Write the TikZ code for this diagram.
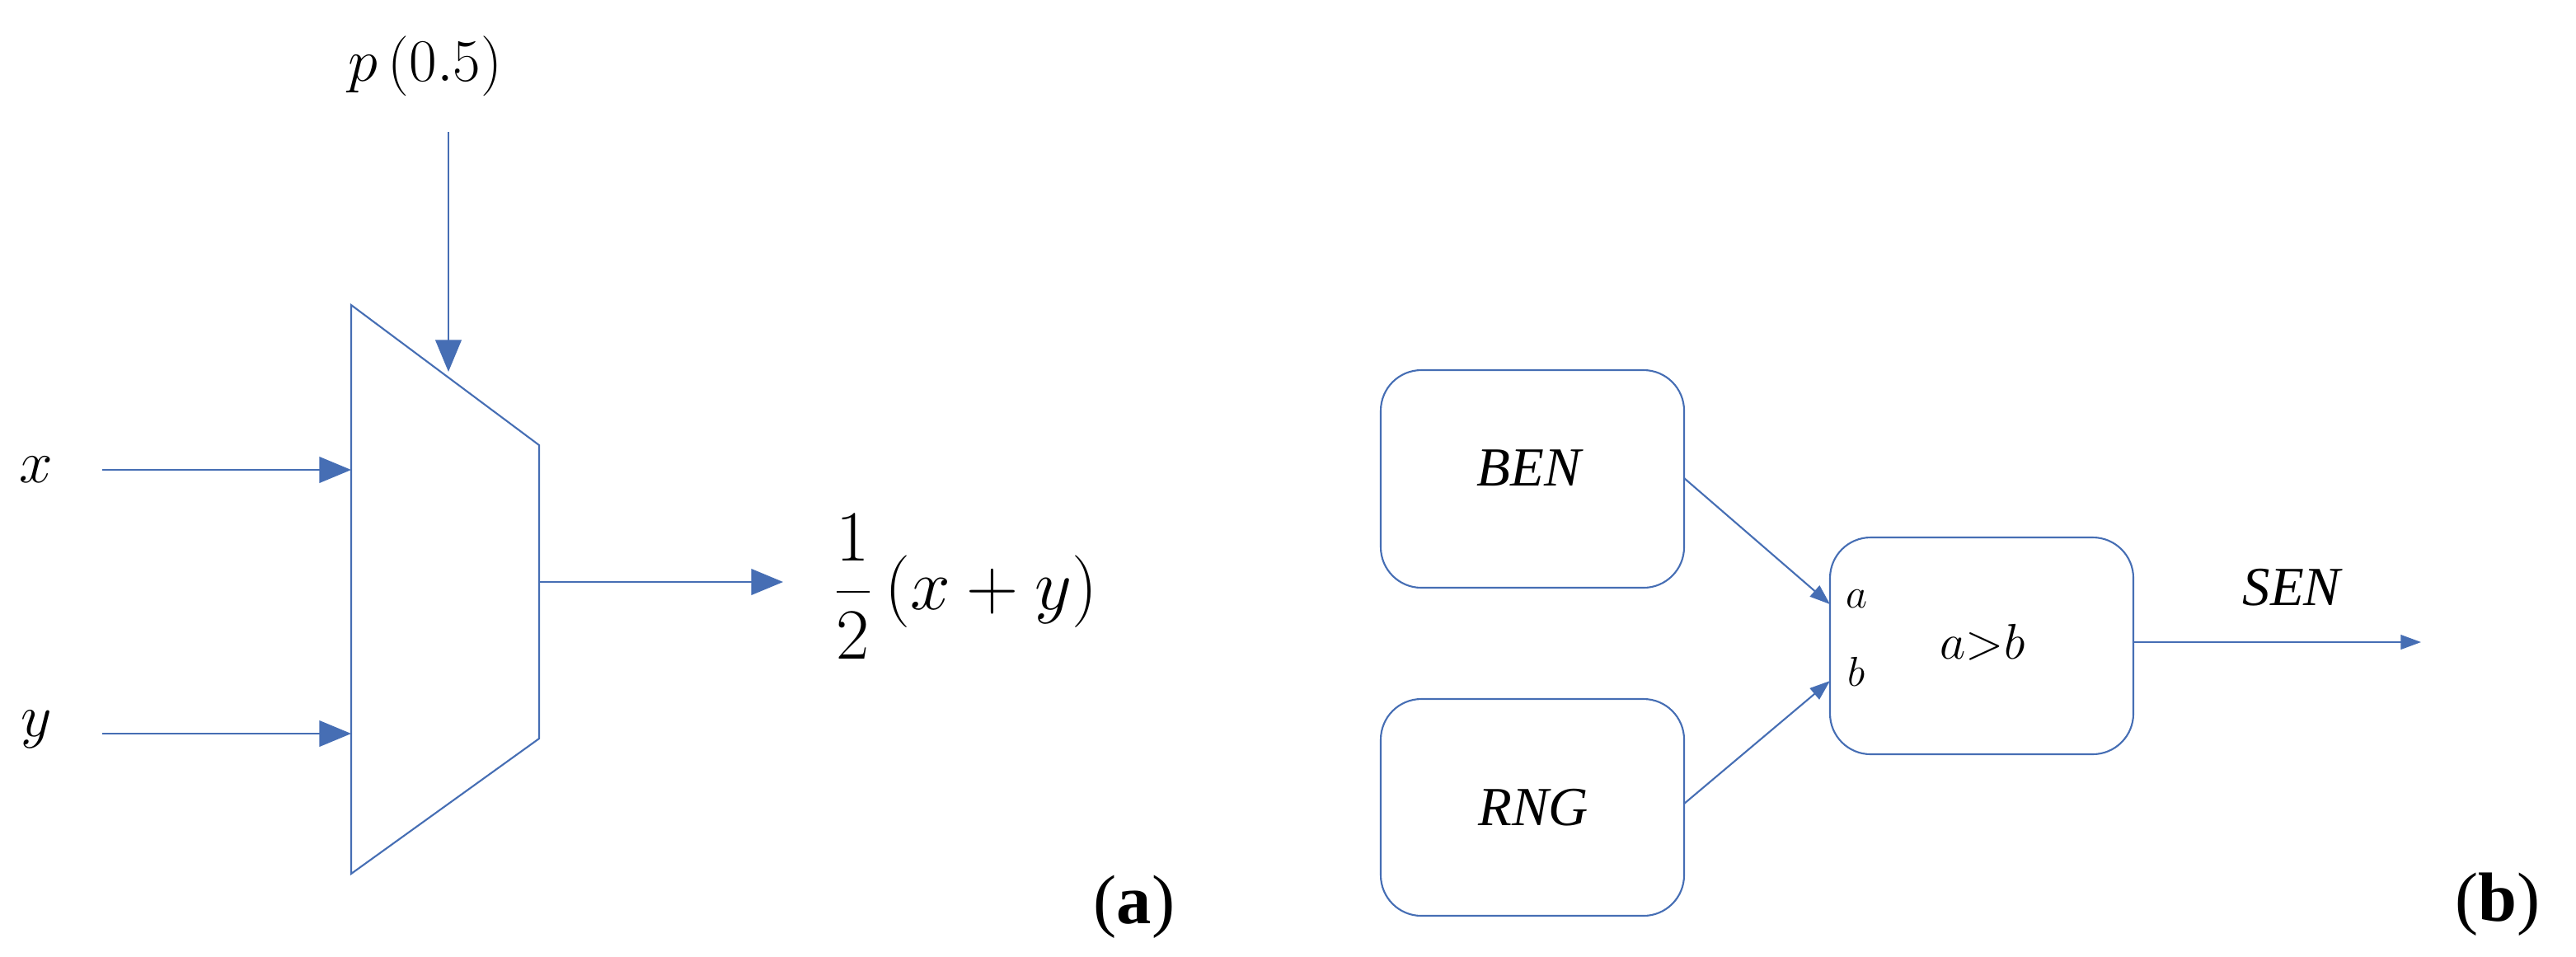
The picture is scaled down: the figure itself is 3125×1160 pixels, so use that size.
\documentclass[tikz,border=0pt]{standalone}
\usepackage{fontspec}
\setmainfont{Liberation Serif}
\usetikzlibrary{arrows.meta}
\definecolor{ln}{RGB}{70,110,180}
\begin{document}
\begin{tikzpicture}[x=0.01cm,y=-0.01cm,
  wire/.style={draw=ln,line width=0.6pt},
  bigarr/.style={wire,-{Triangle[length=11pt,width=9pt]}},
  smallarr/.style={wire,-{Triangle[length=7pt,width=5pt]}},
  rbox/.style={draw=ln,line width=0.6pt,rounded corners=14pt},
  lab/.style={inner sep=0pt,font=\fontsize{22}{26}\selectfont\itshape}]
\path[use as bounding box] (0,0) rectangle (3125,1160);
% (a)
\draw[wire] (426,370) coordinate (tl) -- (654,540) -- (654,896) -- (426,1060) -- cycle;
\coordinate (pin) at (544,451);
\node[lab,font=\fontsize{22}{26}\selectfont] (p) at (516,80) {$p\left(0.5\right)$};
\coordinate (ptop) at (544,160);
\draw[bigarr] (ptop) -- (pin);
\node[lab] (x) at (44,570) {$x$};
\node[lab] (y) at (44,885) {$y$};
\coordinate (xs) at (124,570); \coordinate (xe) at (426,570);
\coordinate (ys) at (124,890); \coordinate (ye) at (426,890);
\draw[bigarr] (xs) -- (xe);
\draw[bigarr] (ys) -- (ye);
\coordinate (os) at (654,706); \coordinate (oe) at (950,706);
\draw[bigarr] (os) -- (oe);
\node[lab,font=\fontsize{24}{28}\selectfont,anchor=west] (f) at (1010,712) {$\displaystyle\frac{1}{2}\left(x+y\right)$};
\node[inner sep=0pt,font=\fontsize{24}{28}\selectfont] (la) at (1376,1100) {(\textbf{a})};
% (b)
\draw[rbox] (1675,449) rectangle (2043,713);
\draw[rbox] (1675,848) rectangle (2043,1111);
\draw[rbox] (2220,652) rectangle (2588,915);
\node[lab,font=\fontsize{19}{22}\selectfont\itshape] (bent) at (1855,568) {BEN};
\node[lab,font=\fontsize{19}{22}\selectfont\itshape] (rngt) at (1860,980) {RNG};
\node[lab,font=\fontsize{19}{22}\selectfont] (cmp) at (2405,779) {$a{>}b$};
\node[lab,font=\fontsize{14}{16}\selectfont] (aa) at (2252,727) {$a$};
\node[lab,font=\fontsize{14}{16}\selectfont] (bb) at (2252,815) {$b$};
\node[lab,font=\fontsize{19}{22}\selectfont\itshape] (sen) at (2780,713) {SEN};
\coordinate (b1) at (2043,580); \coordinate (b2) at (2220,733);
\coordinate (r1) at (2043,975); \coordinate (r2) at (2220,826);
\coordinate (s1) at (2588,779); \coordinate (s2) at (2937,779);
\draw[smallarr] (b1) -- (b2);
\draw[smallarr] (r1) -- (r2);
\draw[smallarr] (s1) -- (s2);
\node[inner sep=0pt,font=\fontsize{24}{28}\selectfont] (lb) at (3030,1097) {(\textbf{b})};
\end{tikzpicture}
\end{document}
